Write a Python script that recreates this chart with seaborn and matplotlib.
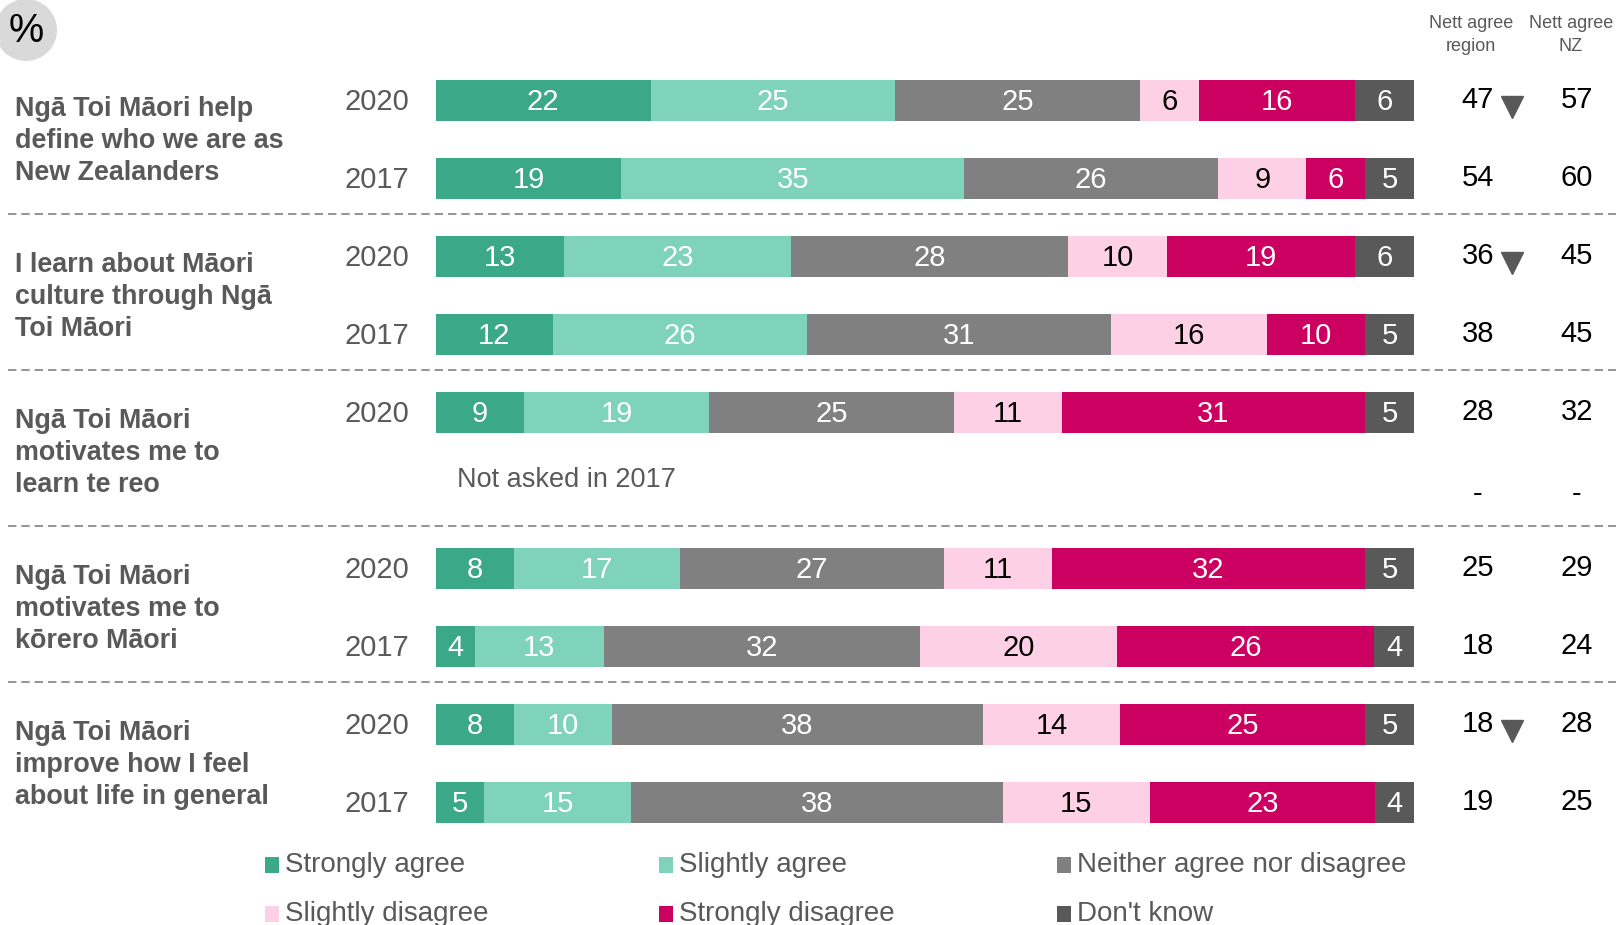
import numpy as np
import pandas as pd
import matplotlib
matplotlib.use("Agg")
import matplotlib.pyplot as plt
from matplotlib.patches import Rectangle, Ellipse
import seaborn as sns

# ---------------- data ----------------
groups = [
    "Ngā Toi Māori help\ndefine who we are as\nNew Zealanders",
    "I learn about Māori\nculture through Ngā\nToi Māori",
    "Ngā Toi Māori\nmotivates me to\nlearn te reo",
    "Ngā Toi Māori\nmotivates me to\nkōrero Māori",
    "Ngā Toi Māori\nimprove how I feel\nabout life in general",
]
years = ["2020", "2017"]
categories = ["Strongly agree", "Slightly agree", "Neither agree nor disagree",
              "Slightly disagree", "Strongly disagree", "Don't know"]
# rows: g1-2020, g1-2017, g2-2020, g2-2017, g3-2020, g3-2017(not asked), g4-2020, g4-2017, g5-2020, g5-2017
strongly_agree    = [22, 19, 13, 12, 9,  np.nan, 8,  4,  8,  5]
slightly_agree    = [25, 35, 23, 26, 19, np.nan, 17, 13, 10, 15]
neither           = [25, 26, 28, 31, 25, np.nan, 27, 32, 38, 38]
slightly_disagree = [6,  9,  10, 16, 11, np.nan, 11, 20, 14, 15]
strongly_disagree = [16, 6,  19, 10, 31, np.nan, 32, 26, 25, 23]
dont_know         = [6,  5,  6,  5,  5,  np.nan, 5,  4,  5,  4]
nett_region = ["47", "54", "36", "38", "28", "-", "25", "18", "18", "19"]
nett_nz     = ["57", "60", "45", "45", "32", "-", "29", "24", "28", "25"]
sig_down    = [True, False, True, False, False, False, False, False, True, False]
not_asked_text = "Not asked in 2017"

colors = ["#3ba888", "#7fd3bb", "#808080", "#fdd0e5", "#cc0060", "#595959"]
label_colors = ["white", "white", "white", "black", "white", "white"]
grey_text = "#595959"

# ---------------- frame ----------------
row_ids = [f"{g}-{y}" for g in range(len(groups)) for y in years]
vals = np.array([strongly_agree, slightly_agree, neither,
                 slightly_disagree, strongly_disagree, dont_know], dtype=float).T
df = pd.DataFrame(vals, columns=categories)
df["row"] = row_ids
totals = df[categories].sum(axis=1)
for k, c in enumerate(categories):
    df[f"cum{k}"] = df[categories[:k + 1]].sum(axis=1) / totals * 100
valid = df.dropna(subset=[categories[0]]).copy()

# ---------------- figure ----------------
sns.set_style("white")
plt.rcParams["font.family"] = ["Liberation Sans", "DejaVu Sans"]

W, H = 1616, 925
fig = plt.figure(figsize=(W / 100, H / 100), dpi=100)

x0_px, x1_px = 435.5, 1414.0
row0_px, step_px = 100.5, 78.0
nrows = len(row_ids)
top_px = row0_px - step_px / 2
bot_px = row0_px + step_px * (nrows - 1) + step_px / 2
ax = fig.add_axes([x0_px / W, 1 - bot_px / H, (x1_px - x0_px) / W, (bot_px - top_px) / H])

def px2x(px):
    return (px - x0_px) / (x1_px - x0_px) * 100

for k in reversed(range(len(categories))):
    sns.barplot(data=valid, x=f"cum{k}", y="row", order=row_ids, orient="h",
                color=colors[k], saturation=1, width=0.526, linewidth=0,
                errorbar=None, ax=ax)

ax.set_xlim(0, 100)
ax.set_ylim(nrows - 0.5, -0.5)
ax.axis("off")

# segment labels
for i, rid in enumerate(row_ids):
    r = df[df["row"] == rid].iloc[0]
    if np.isnan(r[categories[0]]):
        continue
    prev = 0.0
    for k, c in enumerate(categories):
        cur = r[f"cum{k}"]
        ax.text((prev + cur) / 2, i + 0.025, f"{int(r[c])}", ha="center", va="center",
                fontsize=21, color=label_colors[k])
        prev = cur

# year labels, nett values
for i, rid in enumerate(row_ids):
    g, y = rid.split("-")
    if np.isnan(df.loc[i, categories[0]]):
        ax.text(px2x(457), i - 0.13, not_asked_text, ha="left", va="center",
                fontsize=19.5, color=grey_text, clip_on=False)
    else:
        ax.text(px2x(409), i + 0.02, y, ha="right", va="center", fontsize=21,
                color=grey_text, clip_on=False)
    yy = i + (0.05 if nett_region[i] == "-" else 0)
    ax.text(px2x(1478), yy, nett_region[i], ha="center", va="center",
            fontsize=21, color="black", clip_on=False)
    ax.text(px2x(1577), yy, nett_nz[i], ha="center", va="center",
            fontsize=21, color="black", clip_on=False)
    if sig_down[i]:
        ax.plot([px2x(1512)], [i + 0.085], marker="v", markersize=16.5,
                color=grey_text, linestyle="none", clip_on=False)

# group labels and separators
for gi, gl in enumerate(groups):
    ax.text(px2x(15.5), 2 * gi + 0.52, gl, ha="left", va="center",
            fontsize=19.4, fontweight="bold", color=grey_text,
            linespacing=1.31, clip_on=False)
    if gi < len(groups) - 1:
        ax.axhline(2 * gi + 1.45, xmin=(8 - x0_px) / (x1_px - x0_px),
                   xmax=(W - x0_px) / (x1_px - x0_px), color="#808080",
                   linewidth=1.2, linestyle=(0, (5, 3)), clip_on=False)

# headers
fig.text(1471 / W, 1 - 35 / H, "Nett agree\nregion", ha="center", va="center",
         fontsize=13, color=grey_text, linespacing=1.4)
fig.text(1571 / W, 1 - 35 / H, "Nett agree\nNZ", ha="center", va="center",
         fontsize=13, color=grey_text, linespacing=1.4)

# percent badge
fig.add_artist(Ellipse((26 / W, 1 - 30 / H), 62 / W, 62 / H, transform=fig.transFigure,
                       facecolor="#d9d9d9", edgecolor="none"))
fig.text(26 / W, 1 - 31 / H, "%", ha="center", va="center", fontsize=28.5,
         color="black")

# legend
leg_x = [265, 659, 1057]
leg_y = [865, 914]
for k, c in enumerate(categories):
    col, rw = k % 3, k // 3
    mx, my = leg_x[col], leg_y[rw]
    fig.add_artist(Rectangle((mx / W, 1 - (my + 8) / H), 14 / W, 16 / H,
                             transform=fig.transFigure, facecolor=colors[k],
                             edgecolor="none"))
    fig.text((mx + 20) / W, 1 - my / H, c, ha="left", va="center",
             fontsize=20, color=grey_text)

fig.savefig("out.png", dpi=100)
